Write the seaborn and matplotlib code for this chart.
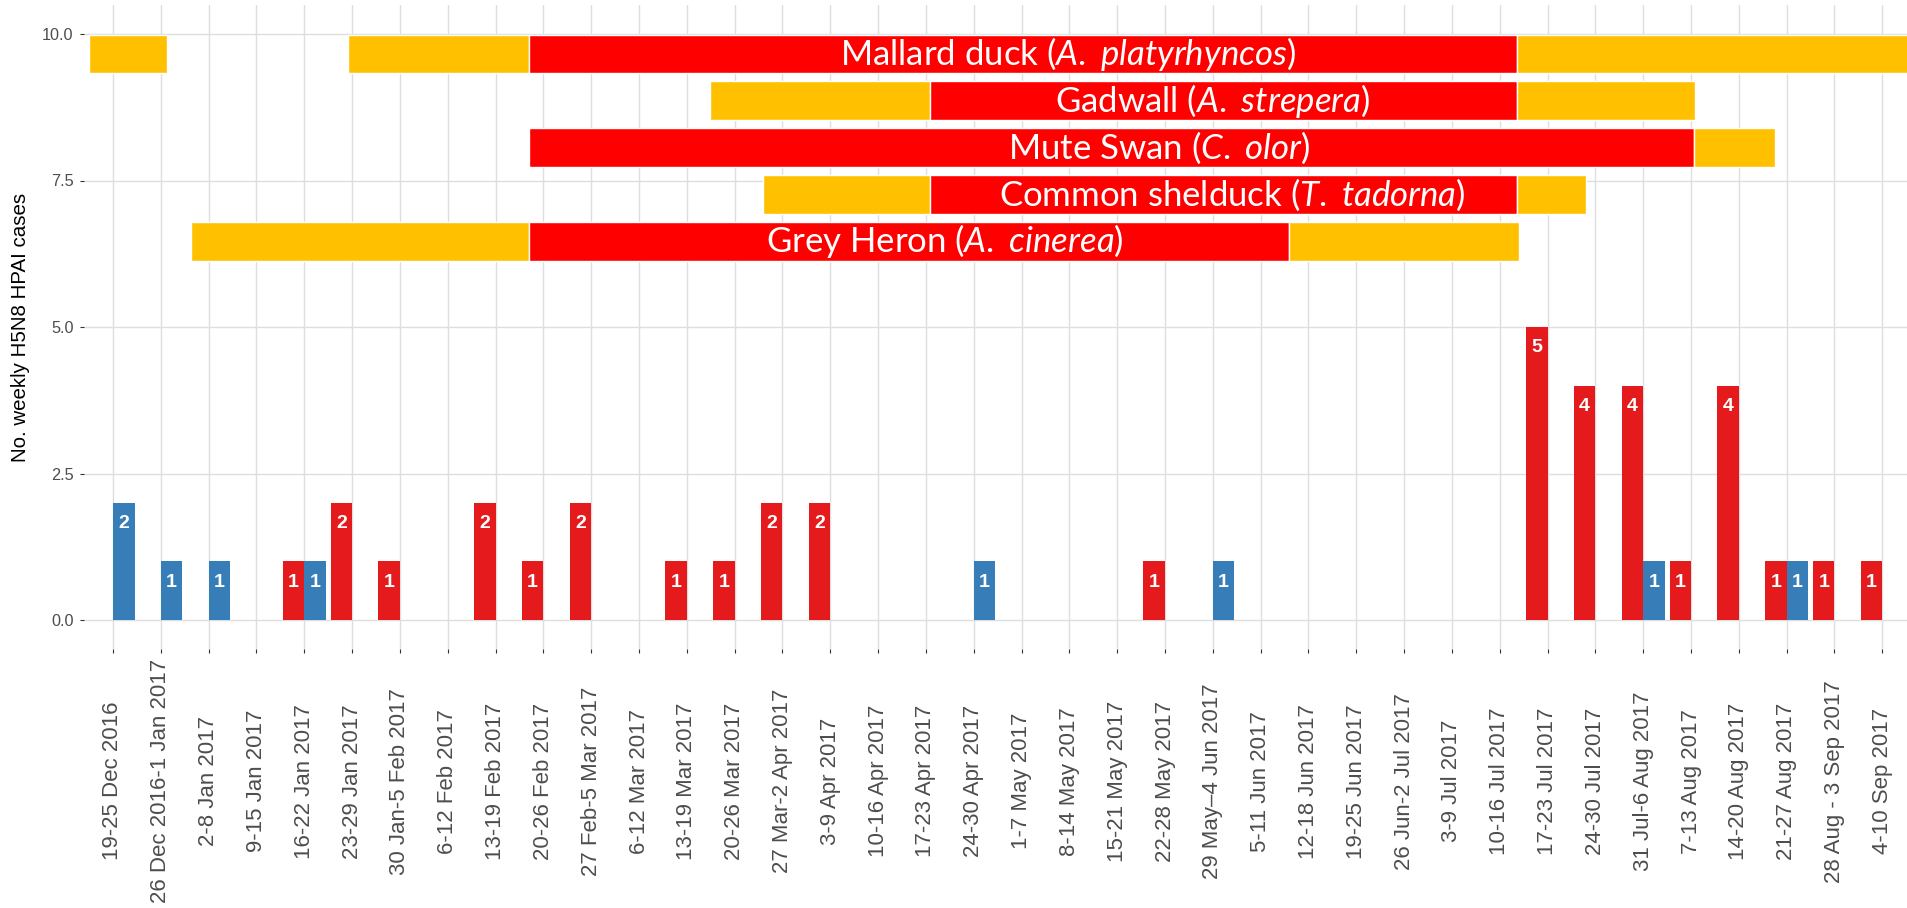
import numpy as np
import pandas as pd
import seaborn as sns
import matplotlib.pyplot as plt
from matplotlib import font_manager

# week categories on the x axis
weeks = ["19-25 Dec 2016", "26 Dec 2016-1 Jan 2017", "2-8 Jan 2017", "9-15 Jan 2017",
         "16-22 Jan 2017", "23-29 Jan 2017", "30 Jan-5 Feb 2017", "6-12 Feb 2017",
         "13-19 Feb 2017", "20-26 Feb 2017", "27 Feb-5 Mar 2017", "6-12 Mar 2017",
         "13-19 Mar 2017", "20-26 Mar 2017", "27 Mar-2 Apr 2017", "3-9 Apr 2017",
         "10-16 Apr 2017", "17-23 Apr 2017", "24-30 Apr 2017", "1-7 May 2017",
         "8-14 May 2017", "15-21 May 2017", "22-28 May 2017", "29 May\u20134 Jun 2017",
         "5-11 Jun 2017", "12-18 Jun 2017", "19-25 Jun 2017", "26 Jun-2 Jul 2017",
         "3-9 Jul 2017", "10-16 Jul 2017", "17-23 Jul 2017", "24-30 Jul 2017",
         "31 Jul-6 Aug 2017", "7-13 Aug 2017", "14-20 Aug 2017", "21-27 Aug 2017",
         "28 Aug - 3 Sep 2017", "4-10 Sep 2017"]

# weekly case counts (red and blue series)
red_cases = [0, 0, 0, 0, 1, 2, 1, 0, 2, 1,
             2, 0, 1, 1, 2, 2, 0, 0, 0, 0,
             0, 0, 1, 0, 0, 0, 0, 0, 0, 0,
             5, 4, 4, 1, 4, 1, 1, 1]
blue_cases = [2, 1, 1, 0, 1, 0, 0, 0, 0, 0,
              0, 0, 0, 0, 0, 0, 0, 0, 1, 0,
              0, 0, 0, 1, 0, 0, 0, 0, 0, 0,
              0, 0, 1, 0, 0, 1, 0, 0]

# species timelines, in week units (start, end, phase)
species = ["Mallard duck", "Gadwall", "Mute Swan", "Common shelduck", "Grey Heron"]
latin = ["A. platyrhyncos", "A. strepera", "C. olor", "T. tadorna", "A. cinerea"]
mallard = [(-0.5, 1.13, "amber"), (4.91, 8.70, "amber"), (8.70, 29.37, "red"), (29.37, 37.6, "amber")]
gadwall = [(12.49, 17.09, "amber"), (17.09, 29.37, "red"), (29.37, 33.08, "amber")]
mute_swan = [(8.70, 33.07, "red"), (33.07, 34.75, "amber")]
shelduck = [(13.6, 17.09, "amber"), (17.09, 29.37, "red"), (29.37, 30.8, "amber")]
grey_heron = [(1.63, 8.70, "amber"), (8.70, 24.6, "red"), (24.6, 29.4, "amber")]
timelines = [mallard, gadwall, mute_swan, shelduck, grey_heron]
label_x = [19.98, 23.0, 21.87, 23.4, 17.4]

sns.set_theme(style="whitegrid")
plt.rcParams["font.family"] = ["Liberation Sans", "DejaVu Sans"]
plt.rcParams["mathtext.fontset"] = "custom"
plt.rcParams["mathtext.rm"] = "Lato"
plt.rcParams["mathtext.it"] = "Lato:italic"

try:
    font_manager.findfont("Liberation Sans Narrow", fallback_to_default=False)
    num_font = "Liberation Sans Narrow"
except Exception:
    num_font = "Liberation Sans"

df = pd.DataFrame({
    "week": weeks * 2,
    "group": ["red"] * len(weeks) + ["blue"] * len(weeks),
    "cases": red_cases + blue_cases,
})

fig = plt.figure(figsize=(19.07, 9.08), dpi=100)
ax = fig.add_axes([84.3 / 1907, 258.7 / 908, (1911 - 84.3) / 1907, 644.6 / 908])

sns.barplot(data=df, x="week", y="cases", hue="group", order=weeks,
            hue_order=["red", "blue"], palette={"red": "#E41A1C", "blue": "#377EB8"},
            width=0.9, saturation=1, errorbar=None, legend=False, linewidth=0, ax=ax)

# white count labels inside the bars
for cont in ax.containers:
    for bar in cont:
        h = bar.get_height()
        if h > 0:
            ax.annotate(f"{int(round(h))}", (bar.get_x() + bar.get_width() / 2, h),
                        xytext=(0, -15), textcoords="offset points", ha="center",
                        va="center", color="white", fontsize=14, fontweight="bold",
                        family=num_font)

# species timelines on top
colors = {"amber": "#FFC000", "red": "#FF0000"}
row_h = 0.66
for i, segs in enumerate(timelines):
    yc = 9.66 - 0.8 * i
    for s, e, phase in segs:
        ax.broken_barh([(s, e - s)], (yc - row_h / 2, row_h), facecolors=colors[phase], zorder=3)
    sci = latin[i].replace(" ", r"\ ")
    ax.text(label_x[i], yc, species[i] + r" ($\mathit{" + sci + r"}$)", ha="center",
            va="center", color="white", fontsize=25, family="Lato", zorder=4)

ax.set_xlim(-0.6, 37.6)
ax.set_ylim(-0.5, 10.5)
ax.set_yticks([0, 2.5, 5, 7.5, 10], ["0.0", "2.5", "5.0", "7.5", "10.0"])
ax.set_xticks(range(len(weeks)), weeks, rotation=90, va="center", ha="center")
ax.set_xlabel("")
ax.set_ylabel("No. weekly H5N8 HPAI cases", fontsize=14.8, color="black", labelpad=9)

ax.grid(True, axis="both", color="#DEDEDE", linewidth=1.0)
ax.set_axisbelow(True)
for sp in ax.spines.values():
    sp.set_visible(False)
ax.tick_params(axis="x", length=3.2, width=0.8, color="#333333", pad=91.8,
               labelsize=16, labelcolor="#4D4D4D", bottom=True)
ax.tick_params(axis="y", length=3.2, width=0.8, color="#333333", pad=4.5,
               labelsize=11.7, labelcolor="#4D4D4D", left=True)

fig.savefig("out.png", dpi=100, facecolor="white")
